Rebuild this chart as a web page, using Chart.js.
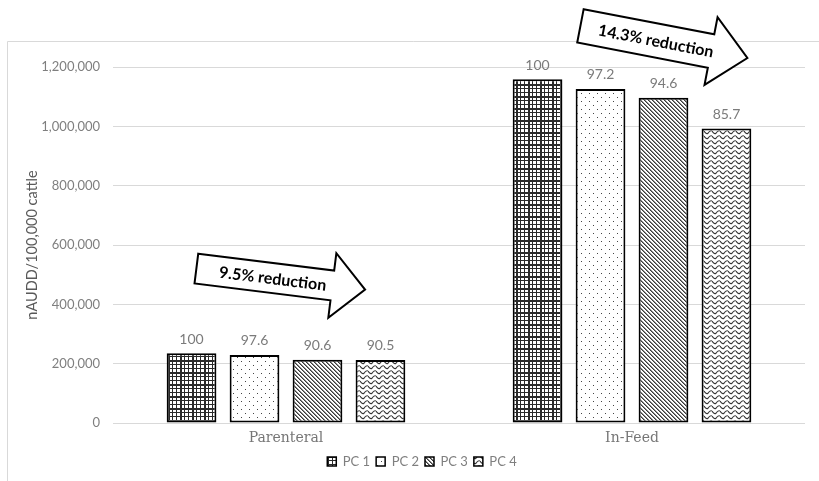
<!DOCTYPE html>
<html>
<head>
<meta charset="utf-8">
<script src="https://cdn.jsdelivr.net/npm/chart.js@4/dist/chart.umd.min.js"></script>
<style>
  html, body { margin: 0; padding: 0; background: #fff; }
  #wrap { width: 819px; height: 481px; position: relative; }
</style>
</head>
<body>
<div id="wrap"><canvas id="chart"></canvas></div>
<script>
// Antimicrobial use by route of administration, per period (nAUDD per 100,000 cattle)
const categories = ['Parenteral', 'In-Feed'];
const seriesNames = ['PC 1', 'PC 2', 'PC 3', 'PC 4'];

const pc1Values = [235000, 1158600];
const pc2Values = [229400, 1126200];
const pc3Values = [212900, 1096000];
const pc4Values = [212700, 992900];

// Index relative to PC 1 (PC 1 = 100), printed above each bar
const pc1Index = [100, 100];
const pc2Index = [97.6, 97.2];
const pc3Index = [90.6, 94.6];
const pc4Index = [90.5, 85.7];

const yTickValues = [0, 200000, 400000, 600000, 800000, 1000000, 1200000];
const reductionLabels = ['9.5% reduction', '14.3% reduction'];

const seriesValues = [pc1Values, pc2Values, pc3Values, pc4Values];
const seriesIndex = [pc1Index, pc2Index, pc3Index, pc4Index];

// ---- monochrome fill patterns -------------------------------------------
function tile(w, h, draw) {
  const c = document.createElement('canvas');
  c.width = w; c.height = h;
  const g = c.getContext('2d');
  g.fillStyle = '#fff';
  g.fillRect(0, 0, w, h);
  draw(g);
  return document.createElement('canvas').getContext('2d').createPattern(c, 'repeat');
}

const patterns = [
  // plaid grid
  tile(12, 12, g => {
    g.fillStyle = '#2a2a2a';
    g.fillRect(0, 0, 2, 12); g.fillRect(4, 0, 1, 12); g.fillRect(8, 0, 1, 12);
    g.fillRect(0, 0, 12, 2); g.fillRect(0, 4, 12, 1); g.fillRect(0, 8, 12, 1);
  }),
  // sparse dots
  tile(8, 8, g => {
    g.fillStyle = '#444';
    g.fillRect(1, 1, 1, 1);
    g.fillRect(5, 5, 1, 1);
  }),
  // dense downward diagonals
  tile(4, 4, g => {
    for (let i = 0; i < 4; i++) {
      g.fillStyle = '#3a3a3a';
      g.fillRect(i, i, 1, 1);
      g.fillStyle = '#8a8a8a';
      g.fillRect((i + 1) % 4, i, 1, 1);
    }
  }),
  // waves
  tile(8, 5, g => {
    g.strokeStyle = '#333';
    g.lineWidth = 1.1;
    g.beginPath();
    g.moveTo(0, 1);
    g.quadraticCurveTo(2, 4.6, 4, 3.2);
    g.quadraticCurveTo(6, 0, 8, 1);
    g.stroke();
  })
];

// ---- plugins --------------------------------------------------------------
const framePlugin = {
  id: 'frame',
  beforeDraw(chart) {
    const ctx = chart.ctx;
    ctx.save();
    ctx.fillStyle = '#fff';
    ctx.fillRect(0, 0, chart.width, chart.height);
    ctx.strokeStyle = '#d9d9d9';
    ctx.lineWidth = 1;
    ctx.beginPath();
    ctx.moveTo(7.5, chart.height);
    ctx.lineTo(7.5, 41.5);
    ctx.lineTo(chart.width, 41.5);
    ctx.stroke();
    ctx.restore();
  }
};

const indexLabelPlugin = {
  id: 'indexLabels',
  afterDatasetsDraw(chart) {
    const ctx = chart.ctx;
    ctx.save();
    ctx.fillStyle = '#7b7b7b';
    ctx.font = '14px Lato';
    ctx.textAlign = 'center';
    ctx.textBaseline = 'middle';
    chart.data.datasets.forEach((ds, i) => {
      chart.getDatasetMeta(i).data.forEach((bar, j) => {
        ctx.fillText(String(seriesIndex[i][j]), bar.x, bar.y - 14);
      });
    });
    ctx.restore();
  }
};

// Block arrows, anchored on the axes: cat = category position, value = y value of tail centre
const arrowSpecs = [
  { cat: -0.259, value: 520600, angle: 7.1, length: 170, shaft: 30, head: 65, headLen: 33, text: reductionLabels[0] },
  { cat: 0.851, value: 1338700, angle: 10.9, length: 170, shaft: 34, head: 69, headLen: 37, text: reductionLabels[1] }
];

const arrowPlugin = {
  id: 'arrows',
  afterDraw(chart) {
    const ctx = chart.ctx;
    const xs = chart.scales.x, ys = chart.scales.y;
    arrowSpecs.forEach(a => {
      const x0 = xs.getPixelForValue(a.cat);
      const y0 = ys.getPixelForValue(a.value);
      const L = a.length, h = a.shaft / 2, H = a.head / 2, b = L - a.headLen;
      ctx.save();
      ctx.translate(x0, y0);
      ctx.rotate(a.angle * Math.PI / 180);
      ctx.beginPath();
      ctx.moveTo(0, -h);
      ctx.lineTo(b, -h);
      ctx.lineTo(b, -H);
      ctx.lineTo(L, 0);
      ctx.lineTo(b, H);
      ctx.lineTo(b, h);
      ctx.lineTo(0, h);
      ctx.closePath();
      ctx.fillStyle = '#fff';
      ctx.fill();
      ctx.lineWidth = 2;
      ctx.lineJoin = 'miter';
      ctx.strokeStyle = '#000';
      ctx.stroke();
      ctx.fillStyle = '#000';
      ctx.font = 'bold 16px Lato';
      ctx.textAlign = 'center';
      ctx.textBaseline = 'middle';
      ctx.fillText(a.text, 77, 1);
      ctx.restore();
    });
  }
};

// ---- chart ----------------------------------------------------------------
new Chart(document.getElementById('chart'), {
  type: 'bar',
  data: {
    labels: categories,
    datasets: seriesNames.map((name, i) => ({
      label: name,
      data: seriesValues[i],
      backgroundColor: patterns[i],
      borderColor: '#000',
      borderWidth: 2,
      borderSkipped: false,
      categoryPercentage: 0.728,
      barPercentage: 0.79
    }))
  },
  options: {
    responsive: true,
    maintainAspectRatio: false,
    animation: false,
    devicePixelRatio: 1,
    layout: { padding: { top: 67, right: 14, bottom: 3, left: 39 } },
    scales: {
      x: {
        grid: { display: false, drawTicks: false },
        border: { display: false },
        ticks: { color: '#767676', font: { family: 'DejaVu Serif', size: 14 }, padding: 7 },
        afterFit(s) { s.height = 26; }
      },
      y: {
        min: 0,
        max: 1200000,
        afterBuildTicks(axis) { axis.ticks = yTickValues.map(v => ({ value: v })); },
        grid: { color: '#d9d9d9', drawTicks: false },
        border: { display: false },
        ticks: {
          color: '#7f7f7f',
          font: { family: 'Lato', size: 13 },
          padding: 13,
          callback: v => Number(v).toLocaleString('en-US')
        },
        title: {
          display: true,
          text: 'nAUDD/100,000 cattle',
          color: '#595959',
          font: { family: 'Lato', size: 14.5 },
          padding: { top: -15, bottom: 0 }
        },
        afterFit(s) { s.width = 74; }
      }
    },
    plugins: {
      legend: {
        position: 'bottom',
        labels: {
          boxWidth: 9,
          boxHeight: 9,
          padding: 6,
          color: '#7f7f7f',
          font: { family: 'Lato', size: 13 },
          generateLabels(chart) {
            return chart.data.datasets.map((ds, i) => ({
              text: ds.label,
              fillStyle: ds.backgroundColor,
              strokeStyle: '#000',
              lineWidth: 1.5,
              fontColor: '#7f7f7f',
              hidden: false,
              datasetIndex: i
            }));
          }
        }
      },
      tooltip: { enabled: false }
    }
  },
  plugins: [framePlugin, indexLabelPlugin, arrowPlugin]
});
</script>
</body>
</html>
